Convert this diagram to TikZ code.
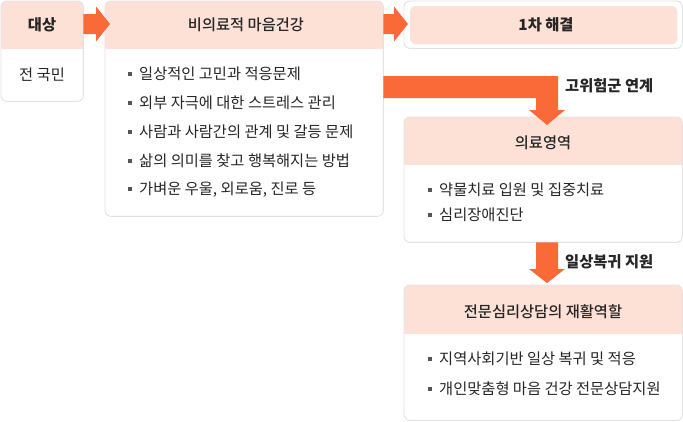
\documentclass[tikz,border=0pt]{standalone}
\usepackage{fontspec}
\setmainfont{Noto Sans CJK KR}
\newfontfamily\medfont{Noto Sans CJK KR Medium}
\usepackage{tikz}
\usetikzlibrary{calc}

\definecolor{headpink}{HTML}{FDE1D7}
\definecolor{fatorange}{HTML}{FA6A38}
\definecolor{panelgray}{HTML}{E2E2E2}
\definecolor{textdark}{HTML}{262626}
\definecolor{dotgray}{HTML}{555555}

\newcommand{\sq}{\textcolor{dotgray}{\rule[3.6pt]{4pt}{4pt}}\hspace{7pt}}
% fat arrow, left to right, from #1 to tip #2
\newcommand{\harrow}[2]{\fill[fatarrow] ($(#1)+(0,-10)$) -- ($(#2)+(-14,-10)$) -- ($(#2)+(-14,-17.5)$) -- (#2) -- ($(#2)+(-14,17.5)$) -- ($(#2)+(-14,10)$) -- ($(#1)+(0,10)$) -- cycle;}

\tikzset{
  panel/.style={inner sep=0pt, anchor=north west, fill=white},
  panelline/.style={draw=panelgray, line width=0.9pt, rounded corners=6pt},
  fatarrow/.style={fill=fatorange},
  title/.style={font=\medfont\fontsize{15.3}{17}\selectfont, text=textdark, inner sep=0pt},
  bold/.style={font=\bfseries\fontsize{15.3}{17}\selectfont, text=textdark, inner sep=0pt},
  item/.style={font=\fontsize{15.3}{17}\selectfont, text=textdark, anchor=west, inner sep=0pt}
}

\begin{document}
\begin{tikzpicture}[x=1pt, y=-1pt]
\useasboundingbox (0,0) rectangle (683,421);

% panels
\node[panel, minimum width=82pt, minimum height=100pt] (tgt) at (1,1) {};
\node[panel, minimum width=278pt, minimum height=215pt] (nm) at (105,1) {};
\node[panel, minimum width=278pt, minimum height=47pt] (first) at (404,1) {};
\node[panel, minimum width=278pt, minimum height=125pt] (med) at (404,117) {};
\node[panel, minimum width=278pt, minimum height=135pt] (rehab) at (404,285) {};

% pink headers
\foreach \p/\h in {tgt/49, nm/49, med/165, rehab/334} {
  \begin{scope}
    \clip[rounded corners=6pt] (\p.north west) rectangle (\p.south east);
    \fill[headpink] (\p.north west) rectangle (\p.east |- 0,\h);
  \end{scope}
  \draw[panelline] (\p.north west) rectangle (\p.south east);
}
\draw[panelline] (first.north west) rectangle (first.south east);
\fill[headpink, rounded corners=6pt] ($(first.north west)+(6,5)$) rectangle ($(first.south east)+(-5,-4)$);

% titles
\node[bold] (tgttitle) at (42,25) {대상};
\node[item, anchor=center] (tgttext) at (42,75) {전 국민};
\node[title] (nmtitle) at (246,25) {비의료적 마음건강};
\node[bold] (firsttitle) at (546,25) {1차 해결};
\node[title] (medtitle) at (543,143) {의료영역};
\node[title] (rehabtitle) at (543,312) {전문심리상담의 재활역할};

% bullet lists
\node[item] (nm1) at (128,74) {\sq 일상적인 고민과 적응문제};
\node[item] (nm2) at (128,103) {\sq 외부 자극에 대한 스트레스 관리};
\node[item] (nm3) at (128,132) {\sq 사람과 사람간의 관계 및 갈등 문제};
\node[item] (nm4) at (128,161) {\sq 삶의 의미를 찾고 행복해지는 방법};
\node[item] (nm5) at (128,190) {\sq 가벼운 우울, 외로움, 진로 등};

\node[item] (med1) at (428,190) {\sq 약물치료 입원 및 집중치료};
\node[item] (med2) at (428,215) {\sq 심리장애진단};

\node[item] (rehab1) at (428,359) {\sq 지역사회기반 일상 복귀 및 적응};
\node[item] (rehab2) at (428,389) {\sq 개인맞춤형 마음 건강 전문상담지원};

% arrows
\coordinate (a1s) at (tgt.east |- 0,24);
\coordinate (a1t) at ($(nm.west |- a1s)+(5,0)$);
\harrow{a1s}{a1t}
\coordinate (a2s) at (nm.east |- 0,24);
\coordinate (a2t) at ($(first.west |- a2s)+(4,0)$);
\harrow{a2s}{a2t}

% high risk link
\coordinate (a3s) at (nm.east |- 0,87);
\coordinate (a3t) at ($(med.north west)+(143,8)$);
\fill[fatarrow] ($(a3s)+(0,-11)$) -- ($(a3t |- a3s)+(11,-11)$) -- ($(a3t)+(11,-15)$) -- ($(a3t)+(18,-15)$) -- (a3t) -- ($(a3t)+(-18,-15)$) -- ($(a3t)+(-11,-15)$) -- ($(a3t |- a3s)+(-11,11)$) -- ($(a3s)+(0,11)$) -- cycle;
\node[bold, anchor=west] (risk) at (565,86) {고위험군 연계};

% recovery support
\coordinate (a4s) at (med.south -| a3t);
\coordinate (a4t) at ($(rehab.north -| a3t)+(0,-2)$);
\fill[fatarrow] ($(a4s)+(-11,0)$) -- ($(a4t)+(-11,-14)$) -- ($(a4t)+(-18,-14)$) -- (a4t) -- ($(a4t)+(18,-14)$) -- ($(a4t)+(11,-14)$) -- ($(a4s)+(11,0)$) -- cycle;
\node[bold, anchor=west] (recover) at (565,262) {일상복귀 지원};

\end{tikzpicture}
\end{document}
